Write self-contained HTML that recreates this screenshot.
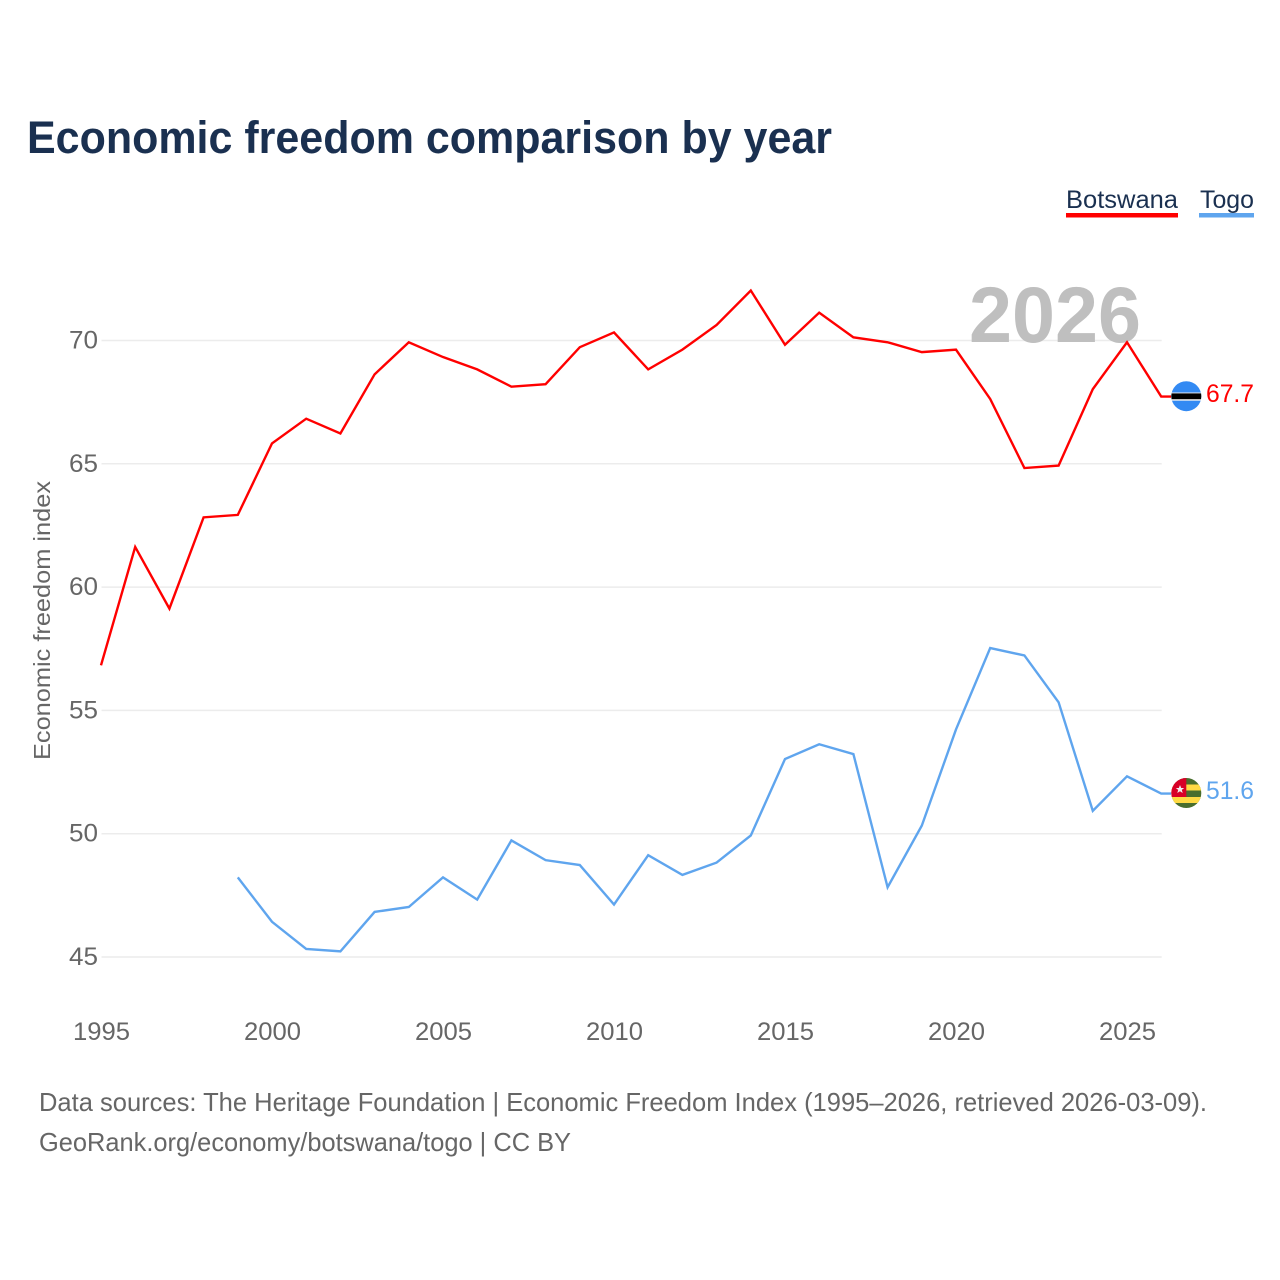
<!DOCTYPE html>
<html lang="en">
<head>
<meta charset="utf-8">
<title>Economic freedom comparison by year</title>
<style>
html,body{margin:0;padding:0;background:#fff;width:1280px;height:1280px;overflow:hidden}
svg{display:block}
text{font-family:"Liberation Sans",sans-serif}
</style>
</head>
<body>
<svg id="chart" xmlns="http://www.w3.org/2000/svg" width="1280" height="1280" viewBox="0 0 1280 1280">
  <rect x="0" y="0" width="1280" height="1280" fill="#fff"/>
  <text x="27" y="153" font-size="45" font-weight="700" fill="#1a3050" textLength="805" lengthAdjust="spacingAndGlyphs">Economic freedom comparison by year</text>

  <g id="grid"></g>
  <text x="969" y="342" font-size="79" font-weight="700" fill="#bfbfbf" textLength="172" lengthAdjust="spacingAndGlyphs">2026</text>
  <g id="yticks"></g>
  <g id="xticks"></g>
  <text transform="translate(50 760) rotate(-90)" font-size="23" fill="#666" textLength="279" lengthAdjust="spacingAndGlyphs">Economic freedom index</text>
  <g id="lines"></g>

  <g>
    <text x="1066" y="208" font-size="25" fill="#1a3050" textLength="112" lengthAdjust="spacingAndGlyphs">Botswana</text>
    <rect x="1066" y="213" width="112" height="4.5" fill="#ff0000"/>
  </g>
  <g>
    <text x="1200" y="208" font-size="25" fill="#1a3050" textLength="54" lengthAdjust="spacingAndGlyphs">Togo</text>
    <rect x="1199" y="213" width="55" height="4.5" fill="#5fa5ee"/>
  </g>

  <defs>
    <clipPath id="clip-bw"><circle cx="1186.3" cy="396.2" r="15"/></clipPath>
    <clipPath id="clip-tg"><circle cx="1186.3" cy="793" r="15"/></clipPath>
  </defs>
  <g id="flag-botswana" clip-path="url(#clip-bw)">
    <rect x="1171" y="381" width="31" height="31" fill="#338af3"/>
    <rect x="1171" y="392.5" width="31" height="8.2" fill="#f0f0f0"/>
    <rect x="1171" y="393.4" width="31" height="5.8" fill="#000"/>
  </g>
  <g id="flag-togo" clip-path="url(#clip-tg)">
    <rect x="1171" y="778" width="31" height="31" fill="#496e2d"/>
    <rect x="1171" y="784.5" width="31" height="6" fill="#ffda44"/>
    <rect x="1171" y="797" width="31" height="6" fill="#ffda44"/>
    <rect x="1171" y="778" width="15.3" height="19" fill="#d80027"/>
    <polygon points="1180,785 1181.2,788 1184.2,788 1181.8,789.9 1182.7,793 1180,791.2 1177.3,793 1178.2,789.9 1175.8,788 1178.8,788" fill="#f0f0f0"/>
  </g>
  <g id="endlabels"></g>

  <text x="39" y="1111" font-size="26" fill="#666" textLength="1168" lengthAdjust="spacingAndGlyphs">Data sources: The Heritage Foundation | Economic Freedom Index (1995–2026, retrieved 2026-03-09).</text>
  <text x="39" y="1151" font-size="26" fill="#666" textLength="532" lengthAdjust="spacingAndGlyphs">GeoRank.org/economy/botswana/togo | CC BY</text>
</svg>
<script>
const years = [1995,1996,1997,1998,1999,2000,2001,2002,2003,2004,2005,2006,2007,2008,2009,2010,2011,2012,2013,2014,2015,2016,2017,2018,2019,2020,2021,2022,2023,2024,2025,2026];
const botswanaValues = [56.8,61.6,59.1,62.8,62.9,65.8,66.8,66.2,68.6,69.9,69.3,68.8,68.1,68.2,69.7,70.3,68.8,69.6,70.6,72.0,69.8,71.1,70.1,69.9,69.5,69.6,67.6,64.8,64.9,68.0,69.9,67.7];
const togoValues = [null,null,null,null,48.2,46.4,45.3,45.2,46.8,47.0,48.2,47.3,49.7,48.9,48.7,47.1,49.1,48.3,48.8,49.9,53.0,53.6,53.2,47.8,50.3,54.2,57.5,57.2,55.3,50.9,52.3,51.6];
const yTickValues = [45,50,55,60,65,70];
const xTickValues = [1995,2000,2005,2010,2015,2020,2025];

const NS = 'http://www.w3.org/2000/svg';
const connectorEndX = 1171;
function xScale(year){ return 101 + (year - 1995) * 34.2; }
function yScale(v){ return 957 - (v - 45) * 24.66; }
function make(tag, attrs, parent){
  const el = document.createElementNS(NS, tag);
  for (const k in attrs) el.setAttribute(k, attrs[k]);
  parent.appendChild(el);
  return el;
}

const grid = document.getElementById('grid');
const yticks = document.getElementById('yticks');
yTickValues.forEach(function(v){
  const line = make('line', {x1:101.5, x2:1161.7, y1:yScale(v), y2:yScale(v), stroke:'#ececec', 'stroke-width':1.5}, grid);
  
  
  const t = make('text', {x:98, y:yScale(v)+8, 'text-anchor':'end', 'font-size':25, fill:'#666', textLength:29, lengthAdjust:'spacingAndGlyphs'}, yticks);
  
  
  t.textContent = v;
});

const xticks = document.getElementById('xticks');
xTickValues.forEach(function(y){
  const t = make('text', {x:xScale(y)+0.5, y:1040, 'text-anchor':'middle', 'font-size':25, fill:'#666', textLength:57, lengthAdjust:'spacingAndGlyphs'}, xticks);
  
  
  t.textContent = y;
});

function linePath(values){
  let d = '', pen = false, last = null;
  values.forEach(function(v, i){
    if (v === null) { pen = false; return; }
    const py = yScale(v) - 0.7;
    d += (pen ? 'L' : 'M') + xScale(years[i]).toFixed(2) + ' ' + py.toFixed(2);
    pen = true;
    last = py;
  });
  return d + 'L' + connectorEndX + ' ' + last.toFixed(2);
}
const lines = document.getElementById('lines');
const lineB = make('path', {d:linePath(botswanaValues), fill:'none', stroke:'#ff0000', 'stroke-width':2.4, 'stroke-linejoin':'miter'}, lines);


const lineT = make('path', {d:linePath(togoValues), fill:'none', stroke:'#5fa5ee', 'stroke-width':2.4, 'stroke-linejoin':'miter'}, lines);



const endlabels = document.getElementById('endlabels');
const endB = make('text', {x:1254, y:402, 'text-anchor':'end', 'font-size':25, fill:'#ff0000', textLength:48, lengthAdjust:'spacingAndGlyphs'}, endlabels);


endB.textContent = botswanaValues[botswanaValues.length - 1].toFixed(1);
const endT = make('text', {x:1254, y:799, 'text-anchor':'end', 'font-size':25, fill:'#5fa5ee', textLength:48, lengthAdjust:'spacingAndGlyphs'}, endlabels);


endT.textContent = togoValues[togoValues.length - 1].toFixed(1);
</script>
</body>
</html>
